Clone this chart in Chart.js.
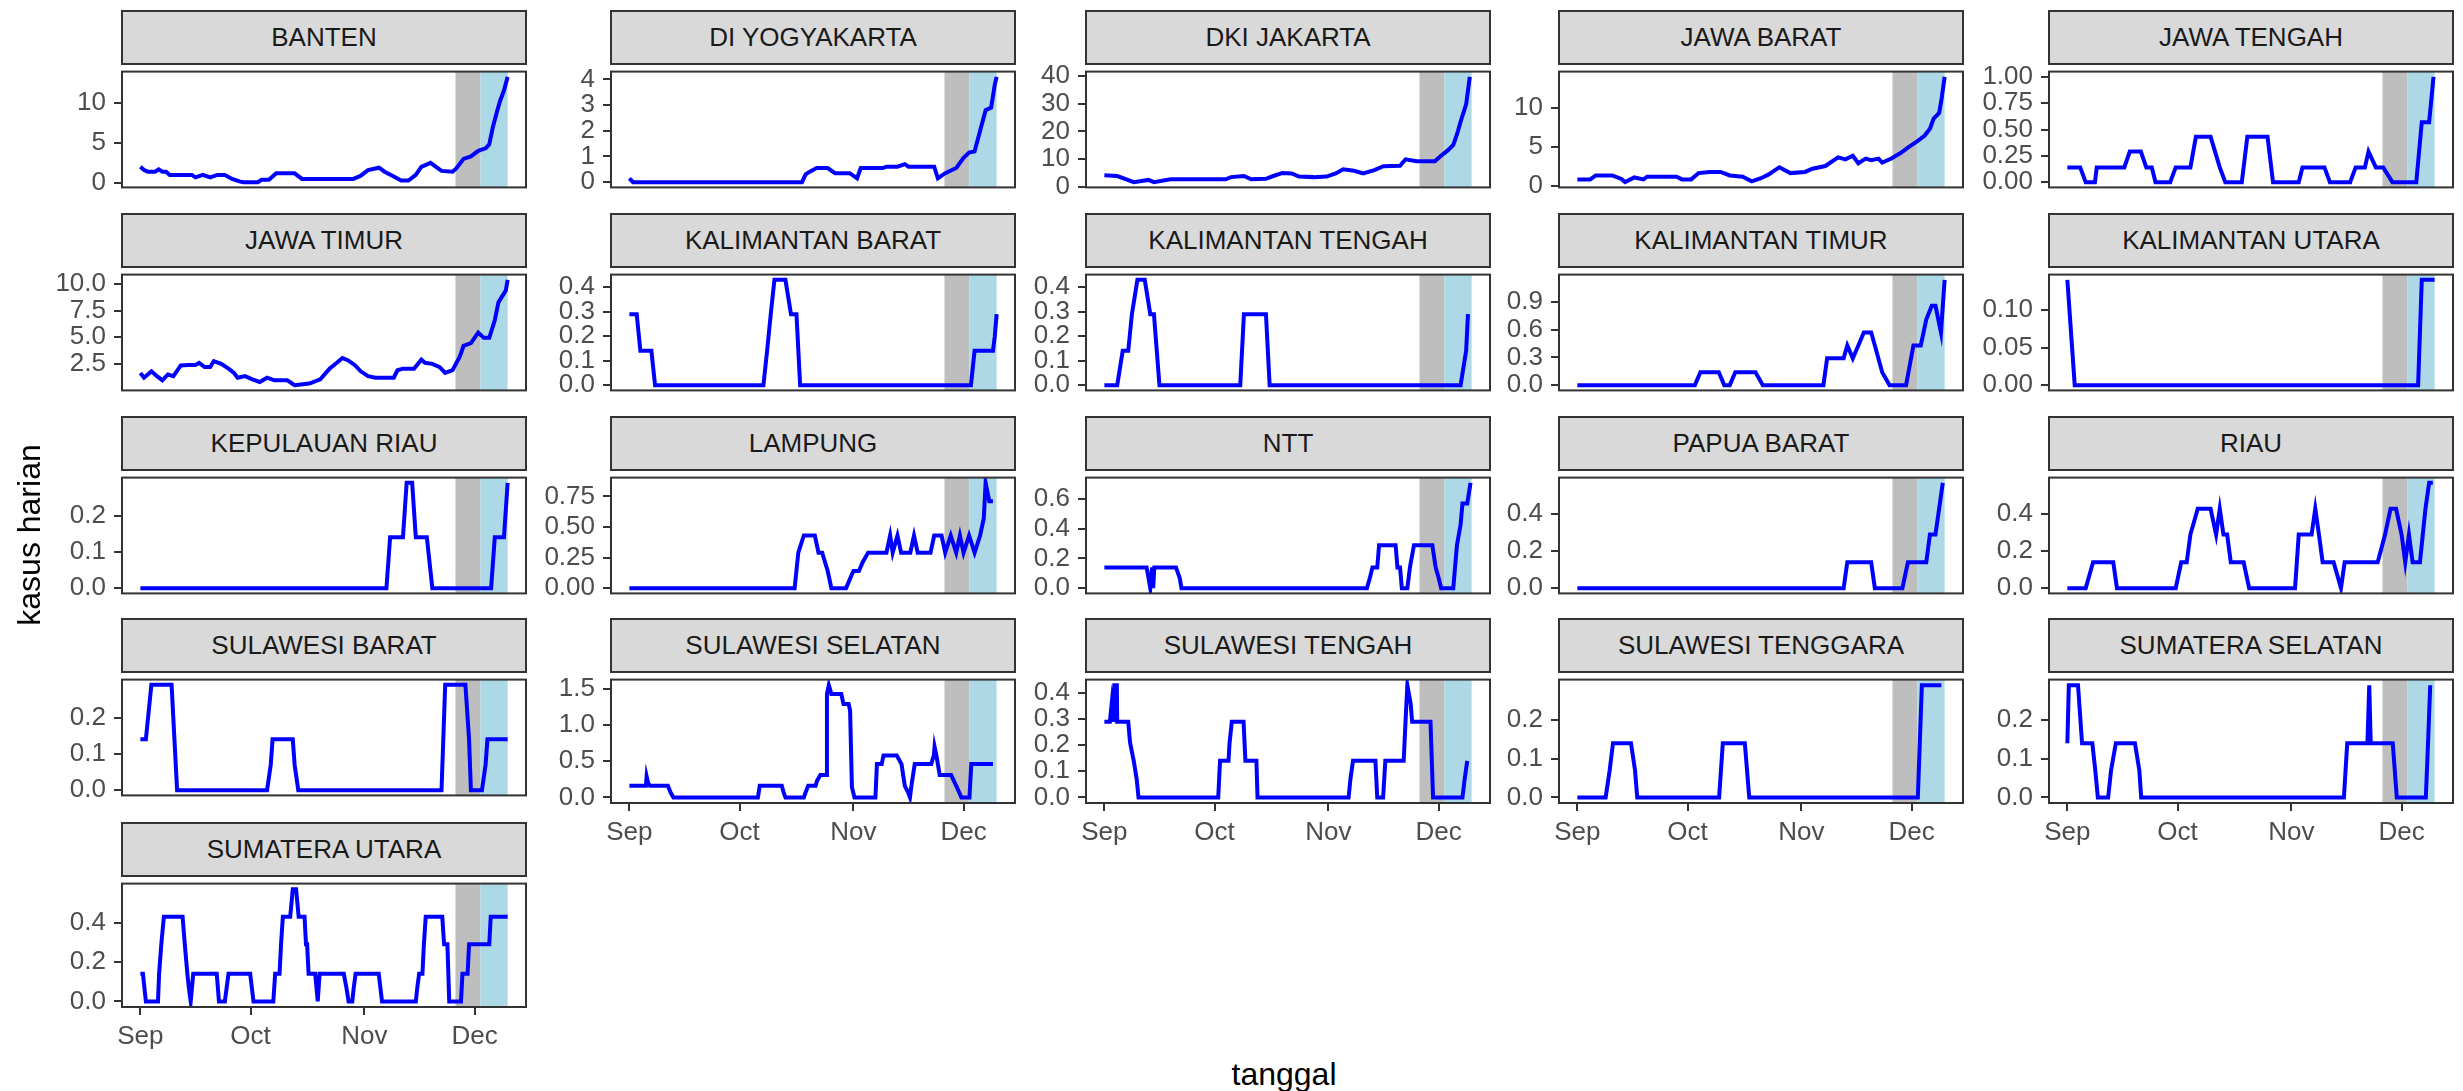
<!DOCTYPE html>
<html>
<head>
<meta charset="UTF-8" />
<title>Kasus harian per provinsi</title>
<style type="text/css">
	body {
		margin: 0;
		width: 2463px;
		height: 1091px;
		position: relative;
		overflow: hidden;
		background: #ffffff;
		font-family: "Liberation Sans", Arial, sans-serif;
	}
	.strip {
		position: absolute;
		box-sizing: border-box;
		background: #d9d9d9;
		border: 2px solid #333333;
		color: #1a1a1a;
		font-size: 26px;
		line-height: 51px;
		text-align: center;
		white-space: nowrap;
	}
	.panel {
		position: absolute;
	}
	.judul {
		position: absolute;
		color: #000000;
		font-size: 32px;
		line-height: 32px;
		text-align: center;
		white-space: nowrap;
	}
</style>
</head>
<body>
<script src="https://cdn.jsdelivr.net/npm/chart.js"></script>
<script>
// hari ke-0 = 1 Sep
const bulanHari = [0, 30, 61, 91];
const bulanLabel = ['Sep', 'Oct', 'Nov', 'Dec'];
const pitaAbu = [85.8, 92.6];
const pitaBiru = [92.6, 100];

const provinsi = ['BANTEN', 'DI YOGYAKARTA', 'DKI JAKARTA', 'JAWA BARAT', 'JAWA TENGAH',
	'JAWA TIMUR', 'KALIMANTAN BARAT', 'KALIMANTAN TENGAH', 'KALIMANTAN TIMUR', 'KALIMANTAN UTARA',
	'KEPULAUAN RIAU', 'LAMPUNG', 'NTT', 'PAPUA BARAT', 'RIAU',
	'SULAWESI BARAT', 'SULAWESI SELATAN', 'SULAWESI TENGAH', 'SULAWESI TENGGARA', 'SUMATERA SELATAN',
	'SUMATERA UTARA'];

// [hari, kasus harian]
const banten = [[0,2.0],[1,1.6],[2,1.4],[4,1.4],[5,1.7],[6,1.4],[7,1.4],[8,1.0],[14,1.0],[15,0.7],[17,1.0],[19,0.7],[21,1.0],[23,1.0],[25,0.5],[27,0.2],[28,0.1],[32,0.1],[33,0.4],[35,0.4],[37,1.2],[42,1.2],[44,0.5],[58,0.5],[60,0.9],[62,1.6],[65,1.9],[66.5,1.4],[69,0.8],[71,0.3],[73,0.3],[75,1.0],[76.5,2.0],[79,2.5],[80.5,2.0],[82,1.5],[85,1.4],[86,1.8],[88,3.0],[90,3.3],[92,4.0],[94,4.3],[95,4.8],[96,7.0],[97,8.7],[98,10.3],[99,11.5],[100,13.2]];
const diYogyakarta = [[0,0.15],[1,0],[47,0],[48,0.3],[49,0.4],[51,0.55],[54,0.55],[56,0.35],[60,0.35],[62,0.15],[63,0.55],[69,0.55],[70,0.6],[73,0.6],[75,0.7],[76,0.6],[83,0.6],[84,0.15],[86,0.35],[89,0.55],[91,0.95],[92.5,1.15],[94,1.2],[95.5,2.0],[97,2.8],[98.5,2.9],[99.5,3.8],[100,4.1]];
const dkiJakarta = [[0,4.3],[3.5,4.0],[6,2.8],[8,1.8],[12,2.6],[13.5,1.8],[18,2.8],[33,2.8],[34.5,3.6],[38,4.0],[40,2.8],[44,3.0],[46,4.0],[48.5,5.1],[51,4.9],[53,3.8],[57,3.6],[60.5,3.8],[63,4.9],[65,6.4],[68,5.9],[70.5,4.9],[73.5,6.1],[76,7.5],[80.5,7.7],[82,10.0],[85,9.3],[90,9.3],[91.5,11.1],[93.5,13.2],[95,15.2],[96,18.9],[97,23.5],[98.5,29.7],[99.5,39.6]];
const jawaBarat = [[0,0.85],[3.5,0.85],[5,1.35],[9.5,1.35],[12,0.9],[13,0.5],[15.5,1.1],[18,0.85],[19,1.2],[27,1.2],[28.5,0.85],[31,0.85],[33,1.65],[36,1.8],[39,1.8],[41.5,1.35],[45,1.2],[47.5,0.6],[50,1.0],[52,1.45],[55,2.4],[58,1.65],[62,1.8],[64,2.2],[67.5,2.55],[71,3.65],[73,3.4],[75,3.85],[76.5,2.9],[78.5,3.5],[80,3.3],[82,3.5],[83,3.0],[85.5,3.5],[88,4.2],[90,4.9],[92.5,5.7],[94.5,6.4],[96,7.3],[97,8.6],[98.5,9.3],[99.2,11.2],[100,13.9]];
const jawaTengah = [[0,0.14],[3.5,0.14],[5,0],[7.5,0],[8,0.14],[15.5,0.14],[17,0.29],[20,0.29],[21.5,0.14],[23,0.14],[24,0],[28,0],[29.5,0.14],[33.5,0.14],[35,0.43],[39,0.43],[41.5,0.14],[43,0],[47.5,0],[49,0.43],[54.5,0.43],[56,0],[63,0],[64,0.14],[70,0.14],[71.5,0],[77,0],[78.5,0.14],[81,0.14],[82,0.29],[84,0.14],[86,0.14],[88.5,0],[95,0],[96.5,0.57],[98.5,0.57],[99.7,1.0]];
const jawaTimur = [[0,1.65],[1,1.2],[2,1.5],[3,1.8],[4.5,1.35],[6,0.95],[7.5,1.5],[9,1.35],[11,2.35],[13,2.4],[15,2.4],[16,2.6],[17.5,2.2],[19,2.2],[20,2.75],[22,2.5],[24,2.05],[25.5,1.65],[26.5,1.2],[28.5,1.35],[30.5,1.05],[32.5,0.8],[34.5,1.2],[36.5,0.95],[40,0.95],[42,0.5],[46,0.65],[49,1.05],[51.5,2.05],[53.5,2.6],[55,3.05],[56.5,2.85],[58.5,2.35],[60,1.8],[62,1.35],[64,1.2],[69,1.2],[70,1.9],[71.5,2.05],[74.5,2.05],[76.5,2.9],[77.5,2.6],[79.5,2.5],[81.5,2.2],[83,1.65],[85,1.9],[87,3.2],[88,4.2],[90,4.45],[92,5.45],[93.5,4.95],[95,4.95],[96.5,6.6],[97.5,8.3],[98.5,8.85],[99.5,9.4],[100,10.4]];
const kalimantanBarat = [[0,0.29],[2,0.29],[3,0.14],[6,0.14],[7,0],[36.5,0],[37.5,0.14],[38.5,0.29],[39.5,0.43],[42.5,0.43],[44,0.29],[45.5,0.29],[46.5,0],[93,0],[94,0.14],[99,0.14],[99.5,0.2],[100,0.29]];
const kalimantanTengah = [[0,0],[3.5,0],[5,0.14],[6.5,0.14],[7.5,0.29],[9,0.43],[11,0.43],[12.5,0.29],[13.5,0.29],[15,0],[37,0],[38,0.29],[44,0.29],[45,0],[97,0],[98.5,0.14],[99,0.29]];
const kalimantanTimur = [[0,0],[32,0],[33.5,0.14],[38.5,0.14],[40,0],[41.5,0],[43,0.14],[48.5,0.14],[50.5,0],[67,0],[68,0.29],[72.5,0.29],[73.5,0.43],[75,0.29],[76.5,0.43],[78,0.57],[80,0.57],[81,0.43],[83,0.14],[85,0],[89.5,0],[91.5,0.43],[93.5,0.43],[95,0.71],[96.5,0.86],[97.5,0.86],[99,0.57],[100,1.14]];
const kalimantanUtara = [[0,0.14],[1,0.07],[2,0],[95.5,0],[96.5,0.14],[100,0.14]];
const kepulauanRiau = [[0,0],[67,0],[68,0.14],[71.5,0.14],[72.5,0.29],[74,0.29],[75,0.14],[78,0.14],[79.5,0],[95.5,0],[96.5,0.14],[99,0.14],[100,0.29]];
const lampung = [[0,0],[45,0],[46,0.29],[47.5,0.43],[50.5,0.43],[51.5,0.29],[52.5,0.29],[54,0.14],[55,0],[59,0],[61,0.14],[62.5,0.14],[63.5,0.21],[65,0.29],[70,0.29],[71,0.43],[71.7,0.29],[73,0.43],[74,0.29],[76.5,0.29],[77.5,0.43],[78.5,0.29],[82,0.29],[83,0.43],[85,0.43],[86,0.29],[87.5,0.43],[89,0.29],[90,0.43],[91,0.29],[92.5,0.43],[94,0.29],[95.5,0.43],[96.5,0.57],[97,0.86],[98,0.71],[99,0.71]];
const ntt = [[0,0.14],[11.5,0.14],[12,0.07],[12.5,0],[13,0.14],[13.3,0],[13.6,0.14],[19.5,0.14],[20.5,0.07],[21,0],[71.5,0],[72.3,0.07],[73,0.14],[74.3,0.14],[74.8,0.29],[79.3,0.29],[79.8,0.14],[80.5,0.14],[81,0],[82.5,0],[83.2,0.14],[84.3,0.29],[89.3,0.29],[90.2,0.14],[91,0.07],[91.7,0],[95,0],[96,0.29],[97,0.43],[97.5,0.57],[98.8,0.57],[99.7,0.71]];
const papuaBarat = [[0,0],[72.5,0],[73.5,0.14],[80,0.14],[81,0],[88.5,0],[90,0.14],[95,0.14],[96,0.29],[97.5,0.29],[98.5,0.43],[99.5,0.57]];
const riau = [[0,0],[5,0],[6,0.07],[7,0.14],[12.5,0.14],[13.5,0],[29.5,0],[31,0.14],[32.5,0.14],[33.5,0.29],[35.5,0.43],[39,0.43],[40.5,0.29],[41.5,0.43],[42.5,0.29],[43.5,0.29],[44.5,0.14],[48,0.14],[49.5,0],[62,0],[63,0.29],[66.5,0.29],[67.5,0.43],[68.5,0.29],[69.5,0.14],[72.5,0.14],[73.5,0.07],[74.5,0],[75.5,0.14],[84.5,0.14],[86.5,0.29],[88,0.43],[89.5,0.43],[91,0.29],[92,0.14],[93,0.29],[94,0.14],[96,0.14],[97.5,0.43],[98.5,0.57],[99.5,0.57]];
const sulawesiBarat = [[0,0.14],[1.5,0.14],[2.2,0.21],[3,0.29],[8.5,0.29],[10,0],[34.5,0],[35.5,0.07],[36,0.14],[41.5,0.14],[42,0.07],[43,0],[82,0],[83,0.29],[88.5,0.29],[89.5,0.14],[90,0],[93,0],[94,0.07],[94.5,0.14],[100,0.14]];
const sulawesiSelatan = [[0,0.16],[4.5,0.16],[4.7,0.29],[5.1,0.2],[5.6,0.16],[10.5,0.16],[11.2,0.07],[12,0],[35,0],[35.5,0.16],[41.5,0.16],[42,0.07],[42.5,0],[47.5,0],[48,0.07],[48.7,0.16],[50.7,0.16],[51.1,0.23],[52,0.31],[53.6,0.31],[53.8,1.43],[54.3,1.55],[55,1.43],[57.7,1.43],[58.3,1.29],[59.7,1.29],[60.1,1.2],[60.6,0.14],[61.3,0],[67,0],[67.4,0.46],[68.7,0.46],[69.2,0.58],[72.8,0.58],[74.1,0.46],[75,0.16],[75.9,0.07],[76.4,0],[76.8,0.16],[77.7,0.46],[82.2,0.46],[82.9,0.58],[83.1,0.7],[83.6,0.58],[84,0.46],[84.5,0.31],[87.6,0.31],[89,0.16],[90.4,0],[92.6,0],[93.1,0.46],[99,0.46]];
const sulawesiTengah = [[0,0.29],[1.5,0.29],[2,0.36],[2.5,0.29],[2.7,0.43],[3.4,0.43],[3.5,0.29],[6.5,0.29],[7,0.21],[8,0.14],[8.8,0.07],[9.3,0],[31,0],[31.5,0.14],[33.8,0.14],[34.1,0.21],[34.7,0.29],[37.9,0.29],[38.4,0.14],[41.4,0.14],[41.7,0],[66.5,0],[67,0.07],[67.7,0.14],[73.8,0.14],[74.3,0],[75.9,0],[76.5,0.14],[81.5,0.14],[82,0.29],[82.5,0.43],[83.4,0.36],[83.8,0.29],[88.8,0.29],[89.5,0],[97.5,0],[98.1,0.07],[98.8,0.14]];
const sulawesiTenggara = [[0,0],[7.7,0],[8.8,0.07],[9.7,0.14],[14.6,0.14],[15.7,0.07],[16.3,0],[38.6,0],[39.6,0.14],[45.6,0.14],[46.8,0],[92.7,0],[93.8,0.29],[99.1,0.29]];
const sumateraSelatan = [[0,0.14],[0.4,0.29],[2.9,0.29],[4,0.14],[6.8,0.14],[7.6,0.07],[8.3,0],[11.1,0],[11.9,0.07],[13.2,0.14],[18.4,0.14],[19.6,0.07],[20.1,0],[75.3,0],[76.2,0.14],[81.7,0.14],[82.2,0.29],[82.6,0.14],[88.6,0.14],[89.7,0],[97.6,0],[98.2,0.14],[98.8,0.29]];
const sumateraUtara = [[0,0.14],[0.7,0.14],[1.5,0],[4.8,0],[5.1,0.14],[5.7,0.29],[6.4,0.43],[11.5,0.43],[12.1,0.29],[12.8,0.14],[13.2,0.07],[13.7,0],[14.4,0.14],[20.8,0.14],[21.4,0],[23,0],[23.5,0.07],[24,0.14],[29.9,0.14],[30.8,0],[36.2,0],[36.7,0.14],[37.9,0.14],[38.3,0.29],[38.8,0.43],[40.8,0.43],[41.5,0.57],[42.4,0.57],[43.1,0.43],[44.7,0.43],[45.1,0.29],[45.4,0.29],[45.8,0.14],[47.6,0.14],[48.3,0],[48.8,0.14],[55.4,0.14],[56.1,0.07],[56.7,0],[57.7,0],[58.1,0.07],[58.6,0.14],[64.9,0.14],[65.8,0],[75,0],[75.4,0.07],[75.9,0.14],[76.8,0.14],[77.2,0.29],[77.7,0.43],[82.2,0.43],[82.7,0.29],[83.6,0.29],[84.1,0],[87.3,0],[87.7,0.14],[89.1,0.14],[89.5,0.29],[95,0.29],[95.4,0.43],[100,0.43]];

const seri = [banten, diYogyakarta, dkiJakarta, jawaBarat, jawaTengah,
	jawaTimur, kalimantanBarat, kalimantanTengah, kalimantanTimur, kalimantanUtara,
	kepulauanRiau, lampung, ntt, papuaBarat, riau,
	sulawesiBarat, sulawesiSelatan, sulawesiTengah, sulawesiTenggara, sumateraSelatan,
	sumateraUtara];

// label sumbu y tiap panel
const labelY = [
	['0','5','10'], ['0','1','2','3','4'], ['0','10','20','30','40'], ['0','5','10'], ['0.00','0.25','0.50','0.75','1.00'],
	['2.5','5.0','7.5','10.0'], ['0.0','0.1','0.2','0.3','0.4'], ['0.0','0.1','0.2','0.3','0.4'], ['0.0','0.3','0.6','0.9'], ['0.00','0.05','0.10'],
	['0.0','0.1','0.2'], ['0.00','0.25','0.50','0.75'], ['0.0','0.2','0.4','0.6'], ['0.0','0.2','0.4'], ['0.0','0.2','0.4'],
	['0.0','0.1','0.2'], ['0.0','0.5','1.0','1.5'], ['0.0','0.1','0.2','0.3','0.4'], ['0.0','0.1','0.2'], ['0.0','0.1','0.2'],
	['0.0','0.2','0.4']
];

//layout
const kolomKiri = [122, 611, 1086, 1559, 2049];
const barisAtas = [10, 213, 416, 618, 822];
const lebarPanel = 404;
const tinggiStrip = 54;
const tinggiPlot = 131;
const YW = 90, PAD = 16, XH = 52, PADR = 10;

Chart.defaults.font.family = '"Liberation Sans", Arial, sans-serif';
Chart.defaults.font.size = 26;
Chart.defaults.color = '#4d4d4d';

const panelPlugin = {
	id: 'panelPlugin',
	beforeDatasetsDraw(chart) {
		const {ctx, chartArea, scales: {x}} = chart;
		ctx.save();
		ctx.beginPath();
		ctx.rect(chartArea.left, chartArea.top, chartArea.width, chartArea.height);
		ctx.clip();
		const a0 = x.getPixelForValue(pitaAbu[0]), a1 = x.getPixelForValue(pitaAbu[1]);
		const b0 = x.getPixelForValue(pitaBiru[0]), b1 = x.getPixelForValue(pitaBiru[1]);
		ctx.fillStyle = '#bebebe';
		ctx.fillRect(a0, chartArea.top, a1 - a0, chartArea.height);
		ctx.fillStyle = '#add8e6';
		ctx.fillRect(b0, chartArea.top, b1 - b0, chartArea.height);
		ctx.restore();
	},
	afterDraw(chart) {
		const {ctx, chartArea} = chart;
		ctx.save();
		ctx.strokeStyle = '#333333';
		ctx.lineWidth = 2;
		ctx.strokeRect(chartArea.left, chartArea.top, chartArea.width, chartArea.height);
		ctx.restore();
	}
};

provinsi.forEach((nama, i) => {
	const baris = Math.floor(i / 5), kolom = i % 5;
	const kiri = kolomKiri[kolom], atas = barisAtas[baris];
	const adaX = i >= 16;

	const strip = document.createElement('div');
	strip.className = 'strip';
	strip.style.left = (kiri - 1) + 'px';
	strip.style.top = atas + 'px';
	strip.style.width = (lebarPanel + 2) + 'px';
	strip.style.height = (tinggiStrip + 1) + 'px';
	strip.textContent = nama;
	document.body.appendChild(strip);

	const w = YW + lebarPanel + PADR;
	const h = PAD + tinggiPlot + (adaX ? XH : PAD);
	const box = document.createElement('div');
	box.className = 'panel';
	box.style.left = (kiri - YW) + 'px';
	box.style.top = (atas + tinggiStrip - PAD) + 'px';
	box.style.width = w + 'px';
	box.style.height = h + 'px';
	const cv = document.createElement('canvas');
	cv.width = w;
	cv.height = h;
	box.appendChild(cv);
	document.body.appendChild(box);

	const titik = seri[i].map(p => ({x: p[0], y: p[1]}));
	const ys = seri[i].map(p => p[1]);
	const yMin = Math.min(...ys), yMax = Math.max(...ys);
	const r = yMax - yMin;
	const tickY = labelY[i].map(Number);

	new Chart(cv, {
		type: 'line',
		data: {
			datasets: [{
				data: titik,
				borderColor: '#0000ff',
				borderWidth: 4,
				pointRadius: 0,
				fill: false,
				tension: 0
			}]
		},
		options: {
			responsive: false,
			animation: false,
			events: [],
			layout: {padding: {top: PAD, bottom: adaX ? 0 : PAD, left: 0, right: PADR}},
			plugins: {legend: {display: false}, tooltip: {enabled: false}},
			scales: {
				x: {
					type: 'linear',
					min: -5,
					max: 105,
					display: adaX,
					afterBuildTicks: s => { s.ticks = bulanHari.map(v => ({value: v})); },
					afterFit: s => { s.height = adaX ? XH : 0; },
					ticks: {
						padding: 6,
						maxRotation: 0,
						autoSkip: false,
						callback: (v, idx) => bulanLabel[idx]
					},
					grid: {drawOnChartArea: false, drawTicks: true, tickLength: 8, color: '#333333', lineWidth: 2},
					border: {display: false}
				},
				y: {
					type: 'linear',
					min: yMin - 0.05 * r,
					max: yMax + 0.05 * r,
					afterBuildTicks: s => { s.ticks = tickY.map(v => ({value: v})); },
					afterFit: s => { s.width = YW; },
					ticks: {
						padding: 8,
						autoSkip: false,
						callback: (v, idx) => labelY[i][idx]
					},
					grid: {drawOnChartArea: false, drawTicks: true, tickLength: 8, color: '#333333', lineWidth: 2},
					border: {display: false}
				}
			}
		},
		plugins: [panelPlugin]
	});
});

// judul sumbu
const jx = document.createElement('div');
jx.className = 'judul';
jx.style.left = (1284 - 150) + 'px';
jx.style.top = '1058px';
jx.style.width = '300px';
jx.textContent = 'tanggal';
document.body.appendChild(jx);

const jy = document.createElement('div');
jy.className = 'judul';
jy.style.left = (29 - 150) + 'px';
jy.style.top = (535 - 16) + 'px';
jy.style.width = '300px';
jy.style.height = '32px';
jy.style.transform = 'rotate(-90deg)';
jy.textContent = 'kasus harian';
document.body.appendChild(jy);
</script>
</body>
</html>
